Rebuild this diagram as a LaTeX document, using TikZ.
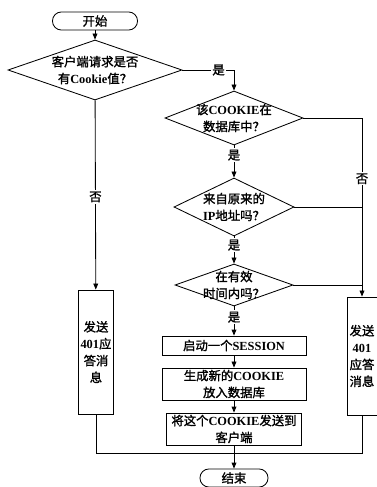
\documentclass[tikz,border=0pt]{standalone}
\usepackage{fontspec}
\setmainfont{Noto Sans CJK SC}[AutoFakeBold=1.5]
\newfontfamily\enfont{Liberation Serif}
\newcommand{\en}[1]{{\enfont\bfseries #1}}
\usetikzlibrary{arrows.meta,shapes.geometric}

\begin{document}
\begin{tikzpicture}[x=0.025cm,y=-0.025cm,>={Triangle[length=1.5mm,width=1.2mm]},
  font=\fontsize{8.8}{12}\selectfont\bfseries,line width=0.6pt,
  term/.style={draw,rounded corners=2.2mm,minimum height=0.45cm,inner sep=0pt},
  dec/.style={draw,diamond,inner sep=0pt},
  proc/.style={draw,align=center,inner sep=0pt},
  lbl/.style={fill=white,inner sep=1pt}]
\useasboundingbox (0,0) rectangle (376,487);
% nodes
\node[term,minimum width=2.125cm] (start) at (95,21) {开始};
\node[dec,minimum width=4.35cm,minimum height=1.5cm,
  label={[align=center]center:{客户端请求是否\\有\en{Cookie}值？}}] (q1) at (95,70) {};
\node[dec,minimum width=3.45cm,minimum height=1.35cm,
  label={[align=center]center:{该\en{COOKIE}在\\数据库中？}}] (q2) at (234,118) {};
\node[dec,minimum width=3.0cm,minimum height=1.45cm,
  label={[align=center]center:{来自原来的\\\en{IP}地址吗？}}] (q3) at (234,207) {};
\node[dec,minimum width=2.95cm,minimum height=1.05cm,
  label={[align=center]center:{在有效\\时间内吗？}}] (q4) at (234,285) {};
\node[proc,minimum width=3.6cm,minimum height=0.475cm] (p1) at (234,345.5) {启动一个\en{SESSION}};
\node[proc,minimum width=3.6cm,minimum height=0.8cm] (p2) at (234,384) {生成新的\en{COOKIE}\\放入数据库};
\node[proc,minimum width=3.375cm,minimum height=0.8cm] (p3) at (234,429) {将这个\en{COOKIE}发送到\\客户端};
\node[proc,minimum width=0.875cm,minimum height=3.1cm] (r1) at (96,352) {发送\\\en{401}应\\答消\\息};
\node[proc,minimum width=0.75cm,minimum height=2.95cm] (r2) at (362,356) {发送\\\en{401}\\应答\\消息};
\node[term,minimum width=1.7cm] (stop) at (234,478) {结束};
\coordinate (m) at (234,453);
% connectors
\draw[->] (start) -- (q1);
\draw[->] (q1.east) -| node[lbl,pos=0.35] (y1) {是} (q2.north);
\draw[->] (q2) -- node[lbl,pos=0.3] (y2) {是} (q3);
\draw[->] (q3) -- node[lbl,pos=0.32] (y3) {是} (q4);
\draw[->] (q4) -- node[lbl,pos=0.37] (y4) {是} (p1);
\draw[->] (p1) -- (p2);
\draw[->] (p2) -- (p3);
\draw[->] (q1) -- node[lbl,pos=0.51] (n1) {否} (r1);
\draw[->] (q2.east) -| node[lbl,pos=0.67] (n2) {否} (r2.north);
\draw (q3.east) -- (q3.east -| r2.north);
\draw (q4.east) -- (q4.east -| r2.north);
\draw (r1.south) |- (m);
\draw (r2.south) |- (m);
\draw[->] (p3) -- (stop);
\end{tikzpicture}
\end{document}
